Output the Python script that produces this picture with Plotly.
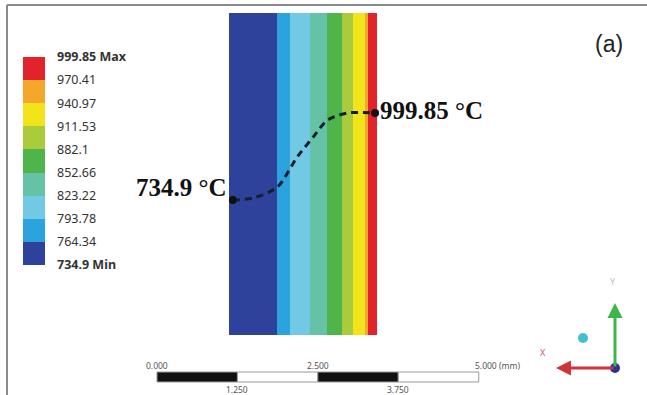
import plotly.graph_objects as go

# ---------------- data ----------------
levels = [734.9, 764.34, 793.78, 823.22, 852.66, 882.1, 911.53, 940.97, 970.41, 999.85]
level_colors = ["#2e419b", "#2aa3df", "#72c9e3", "#66c2a6", "#4fb54b",
                "#a9cb3c", "#f1e41a", "#f4a72a", "#e2232b"]
level_labels = ["734.9 Min", "764.34", "793.78", "823.22", "852.66",
                "882.1", "911.53", "940.97", "970.41", "999.85 Max"]

# contour bands across the specimen (mm), one band per level
band_edges_mm = [0.0, 0.75, 0.95, 1.26, 1.52, 1.76, 1.93, 2.12, 2.16, 2.30]
band_level = [0, 1, 2, 3, 4, 5, 6, 7, 8]
specimen_height_mm = [0.0, 5.0]

# temperature profile drawn across the specimen
profile_x_mm = [0.06, 0.37, 0.75, 1.06, 1.31, 1.53, 1.84, 2.27]
profile_temp = [734.9, 741.0, 774.0, 866.0, 927.0, 978.0, 999.85, 999.85]

# scale bar (mm)
scale_ticks = [0.0, 1.25, 2.5, 3.75, 5.0]
scale_top_labels = ["0.000", "2.500", "5.000 (mm)"]
scale_bottom_labels = ["1.250", "3.750"]

# ---------------- layout constants (pixels) ----------------
W, H = 647, 395
RECT_L, RECT_R, RECT_T, RECT_B = 229, 377, 13, 335
sx = (RECT_R - RECT_L) / (band_edges_mm[-1] - band_edges_mm[0])
sy = (RECT_B - RECT_T) / (specimen_height_mm[1] - specimen_height_mm[0])
x_range = [(0 - RECT_L) / sx, (W - RECT_L) / sx]
y_range = [-(H - RECT_B) / sy, RECT_B / sy]
# temperature axis: min at px 200, max at px 113
T_LO_PX, T_HI_PX = 200, 113
tpp = (levels[-1] - levels[0]) / (T_LO_PX - T_HI_PX)
y2_range = [levels[0] - (H - T_LO_PX) * tpp, levels[-1] + T_HI_PX * tpp]


def px(x):
    return x / W


def py(y):
    return 1 - y / H


# discrete colorscale
zmin, zmax = levels[0], levels[-1]
cs = []
for i, c in enumerate(level_colors):
    cs.append([(levels[i] - zmin) / (zmax - zmin), c])
    cs.append([(levels[i + 1] - zmin) / (zmax - zmin), c])

z_row = [(levels[k] + levels[k + 1]) / 2 for k in band_level]

fig = go.Figure()
fig.add_trace(go.Heatmap(
    x=band_edges_mm, y=specimen_height_mm, z=[z_row],
    zmin=zmin, zmax=zmax, colorscale=cs, hoverinfo="skip",
    colorbar=dict(
        x=px(23), xanchor="left", xpad=0, ypad=0,
        y=py(161), yanchor="middle",
        lenmode="pixels", len=208, thickness=22,
        outlinewidth=0,
        tickvals=levels,
        ticktext=[("<b>%s</b>" % t) if ("Max" in t or "Min" in t) else t for t in level_labels],
        ticks="outside", ticklen=10, tickcolor="rgba(0,0,0,0)",
        tickfont=dict(family="Noto Sans", size=12.5, color="#333333"),
    ),
))

fig.add_trace(go.Scatter(
    x=profile_x_mm, y=profile_temp, yaxis="y2", mode="lines",
    line=dict(color="#14202e", width=3, dash="7px,5px", shape="spline", smoothing=0.8),
    hoverinfo="skip", showlegend=False,
))
fig.add_trace(go.Scatter(
    x=[profile_x_mm[0], profile_x_mm[-1]], y=[profile_temp[0], profile_temp[-1]],
    yaxis="y2", mode="markers", marker=dict(color="#111111", size=8),
    hoverinfo="skip", showlegend=False,
))

shapes = []
annotations = []

# frame
shapes.append(dict(type="line", xref="paper", yref="paper", x0=px(7), x1=px(W), y0=py(5), y1=py(5),
                   line=dict(color="#8a8a8a", width=2)))
shapes.append(dict(type="line", xref="paper", yref="paper", x0=px(7), x1=px(7), y0=py(5), y1=py(H),
                   line=dict(color="#8a8a8a", width=2)))

# scale bar
SB_ORIGIN_MM = (157 - RECT_L) / sx
SB_T, SB_B = 372, 382
for i in range(len(scale_ticks) - 1):
    fill = "#111111" if i % 2 == 0 else "#ffffff"
    shapes.append(dict(type="rect", xref="x", yref="paper",
                       x0=SB_ORIGIN_MM + scale_ticks[i], x1=SB_ORIGIN_MM + scale_ticks[i + 1],
                       y0=py(SB_B), y1=py(SB_T), fillcolor=fill,
                       line=dict(color="#9a9a9a", width=1)))
for t, lab in zip(scale_ticks[::2], scale_top_labels):
    annotations.append(dict(xref="x", yref="paper", x=SB_ORIGIN_MM + t, y=py(365),
                            text=lab, showarrow=False,
                            xanchor="left" if "mm" in lab else "center", xshift=-6 if "mm" in lab else 0,
                            yanchor="middle", font=dict(family="Noto Sans", size=8.5, color="#555555")))
for t, lab in zip(scale_ticks[1::2], scale_bottom_labels):
    annotations.append(dict(xref="x", yref="paper", x=SB_ORIGIN_MM + t, y=py(389),
                            text=lab, showarrow=False, xanchor="center", yanchor="middle",
                            font=dict(family="Noto Sans", size=8.5, color="#555555")))

# temperature labels
annotations.append(dict(xref="paper", yref="paper", x=px(229), y=py(187), text="<b>734.9 °C</b>",
                        showarrow=False, xanchor="right", yanchor="middle",
                        font=dict(family="Liberation Serif", size=25, color="#111111")))
annotations.append(dict(xref="paper", yref="paper", x=px(378), y=py(111), text="<b>999.85 °C</b>",
                        showarrow=False, xanchor="left", yanchor="middle",
                        font=dict(family="Liberation Serif", size=25, color="#111111")))
annotations.append(dict(xref="paper", yref="paper", x=px(609), y=py(44), text="(a)",
                        showarrow=False, xanchor="center", yanchor="middle",
                        font=dict(family="Liberation Sans", size=23, color="#222222")))

# axis triad
annotations.append(dict(xref="paper", yref="paper", x=px(615), y=py(303), ax=0, ay=65,
                        showarrow=True, arrowhead=2, arrowsize=1, arrowwidth=3, arrowcolor="#3db54a", text=""))
annotations.append(dict(xref="paper", yref="paper", x=px(556), y=py(368), ax=59, ay=0,
                        showarrow=True, arrowhead=2, arrowsize=1, arrowwidth=3, arrowcolor="#d2323a", text=""))
annotations.append(dict(xref="paper", yref="paper", x=px(548), y=py(361), text="X", showarrow=False,
                        font=dict(family="Noto Sans", size=9, color="#c0607a")))
annotations.append(dict(xref="paper", yref="paper", x=px(618), y=py(290), text="Y", showarrow=False,
                        font=dict(family="Noto Sans", size=9, color="#bbbbbb")))
shapes.append(dict(type="circle", xref="paper", yref="paper", x0=px(578), x1=px(588), y0=py(343), y1=py(333),
                   fillcolor="#3fbfcf", line=dict(width=0)))
shapes.append(dict(type="circle", xref="paper", yref="paper", x0=px(610), x1=px(620), y0=py(373), y1=py(363),
                   fillcolor="#2f2f9a", line=dict(width=0)))

fig.update_layout(
    width=W, height=H, margin=dict(l=0, r=0, t=0, b=0),
    paper_bgcolor="white", plot_bgcolor="white",
    xaxis=dict(range=x_range, visible=False, fixedrange=True),
    yaxis=dict(range=y_range, visible=False, fixedrange=True),
    yaxis2=dict(range=y2_range, overlaying="y", visible=False, fixedrange=True),
    shapes=shapes, annotations=annotations, showlegend=False,
)

fig.write_html("out.html", config={"displayModeBar": False},
               post_script="document.body.style.margin='0px';document.body.style.overflow='hidden';")
